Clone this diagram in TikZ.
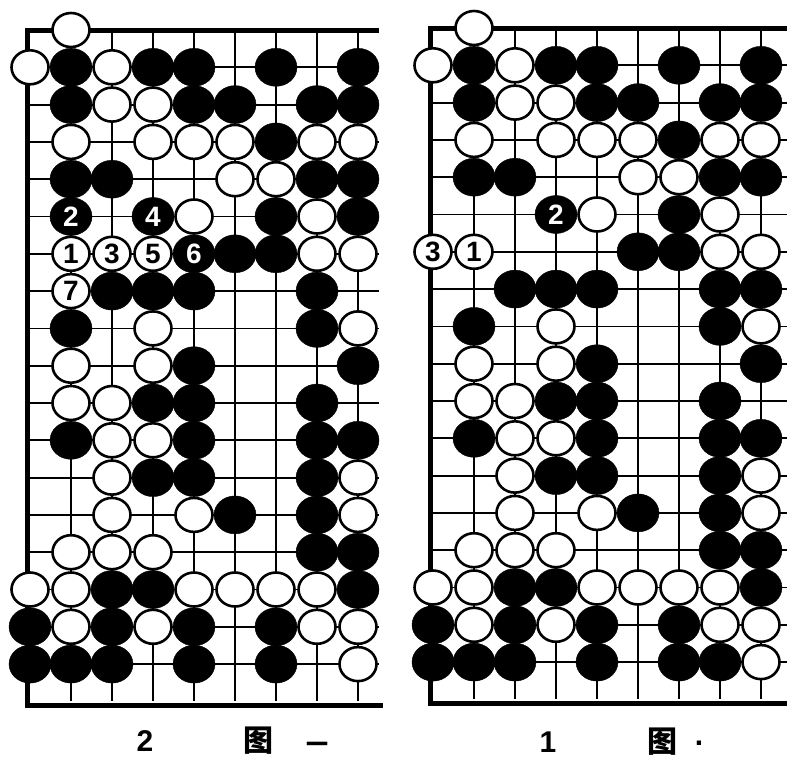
\documentclass[tikz,border=0pt]{standalone}
\usepackage{fontspec}
\setmainfont{Liberation Sans}
\newfontfamily\cjk{Noto Sans CJK SC}
\usetikzlibrary{shapes.geometric}

% stones shared by both diagrams (row/column)
\newcommand\blackcommon{1/1,1/3,1/4,1/6,1/8, 2/1,2/4,2/5,2/7,2/8, 3/6, 4/1,4/2,4/7,4/8,
  5/6, 6/5,6/6, 7/2,7/3,7/4,7/7, 8/1,8/7, 9/4,9/8, 10/3,10/4,10/7, 11/1,11/4,11/7,11/8,
  12/3,12/4,12/7, 13/5,13/7, 14/7,14/8, 15/2,15/3,15/8, 16/0,16/2,16/4,16/6,
  17/0,17/1,17/2,17/4,17/6}
\newcommand\whitecommon{0/1, 1/0,1/2, 2/2,2/3, 3/1,3/3,3/4,3/5,3/7,3/8, 4/5,4/6, 5/4,5/7,
  6/7,6/8, 8/3,8/8, 9/1,9/3, 10/1,10/2, 11/2,11/3, 12/2,12/8, 13/2,13/4,13/8,
  14/1,14/2,14/3, 15/0,15/1,15/4,15/5,15/6,15/7, 16/1,16/3,16/7,16/8, 17/8}

\begin{document}
\begin{tikzpicture}[x=1pt, y=-1pt,
  gridline/.style={line width=1.8pt},
  edgeline/.style={line width=5pt},
  wstone/.style={draw, ellipse, fill=white, line width=2.6pt, minimum width=37pt, minimum height=34pt,
    inner sep=0pt, font=\fontsize{28}{28}\selectfont\bfseries},
  bstone/.style={draw, ellipse, fill=black, minimum width=42pt, minimum height=38pt,
    inner sep=0pt, text=white, font=\fontsize{28}{28}\selectfont\bfseries},
  caption/.style={font=\fontsize{30}{30}\selectfont\bfseries}
]
\useasboundingbox (0,0) rectangle (787,758);

% left diagram
\begin{scope}[xshift=30pt, yshift=-30pt, x=41pt, y=-37.3pt]
  \foreach \c in {1,...,8} \draw[gridline] (\c,0) -- (\c,18);
  \foreach \r in {1,...,17} \draw[gridline] (0,\r) -- (8.5,\r);
  \draw[edgeline] (8.5,0) -- (-0.05,0) -- (-0.05,18.1) -- (8.6,18.1);
  \foreach \r/\c in \blackcommon \node[bstone] (L-\r-\c) at (\c,\r) {};
  \foreach \r/\c in \whitecommon \node[wstone] (L-\r-\c) at (\c,\r) {};
  \node[bstone] (L-5-8) at (8,5) {};
  \node[bstone] (L-5-1) at (1,5) {2};
  \node[bstone] (L-5-3) at (3,5) {4};
  \node[wstone] (L-6-1) at (1,6) {1};
  \node[wstone] (L-6-2) at (2,6) {3};
  \node[wstone] (L-6-3) at (3,6) {5};
  \node[bstone] (L-6-4) at (4,6) {6};
  \node[wstone] (L-7-1) at (1,7) {7};
\end{scope}
\node[caption] (num2) at (145,741) {2};
\node[caption] (tu2) at (258,741) {\cjk 图};
\node[caption, font=\fontsize{22}{22}\selectfont\bfseries] (dash2) at (317,747) {\cjk 一};

% right diagram
\begin{scope}[xshift=433pt, yshift=-28pt, x=41pt, y=-37.3pt]
  \foreach \c in {1,...,8} \draw[gridline] (\c,0) -- (\c,18);
  \foreach \r in {1,...,17} \draw[gridline] (0,\r) -- (8.8,\r);
  \draw[edgeline] (8.8,0) -- (-0.05,0) -- (-0.05,18.1) -- (8.8,18.1);
  \foreach \r/\c in \blackcommon \node[bstone] (R-\r-\c) at (\c,\r) {};
  \foreach \r/\c in \whitecommon \node[wstone] (R-\r-\c) at (\c,\r) {};
  \node[bstone] (R-7-8) at (8,7) {};
  \node[bstone] (R-17-7) at (7,17) {};
  \node[bstone] (R-5-3) at (3,5) {2};
  \node[wstone] (R-6-0) at (0,6) {3};
  \node[wstone] (R-6-1) at (1,6) {1};
\end{scope}
\node[caption] (num1) at (548,742) {1};
\node[caption] (tu1) at (662,742) {\cjk 图};
\node[caption] (dot1) at (699,743) {.};
\end{tikzpicture}
\end{document}
